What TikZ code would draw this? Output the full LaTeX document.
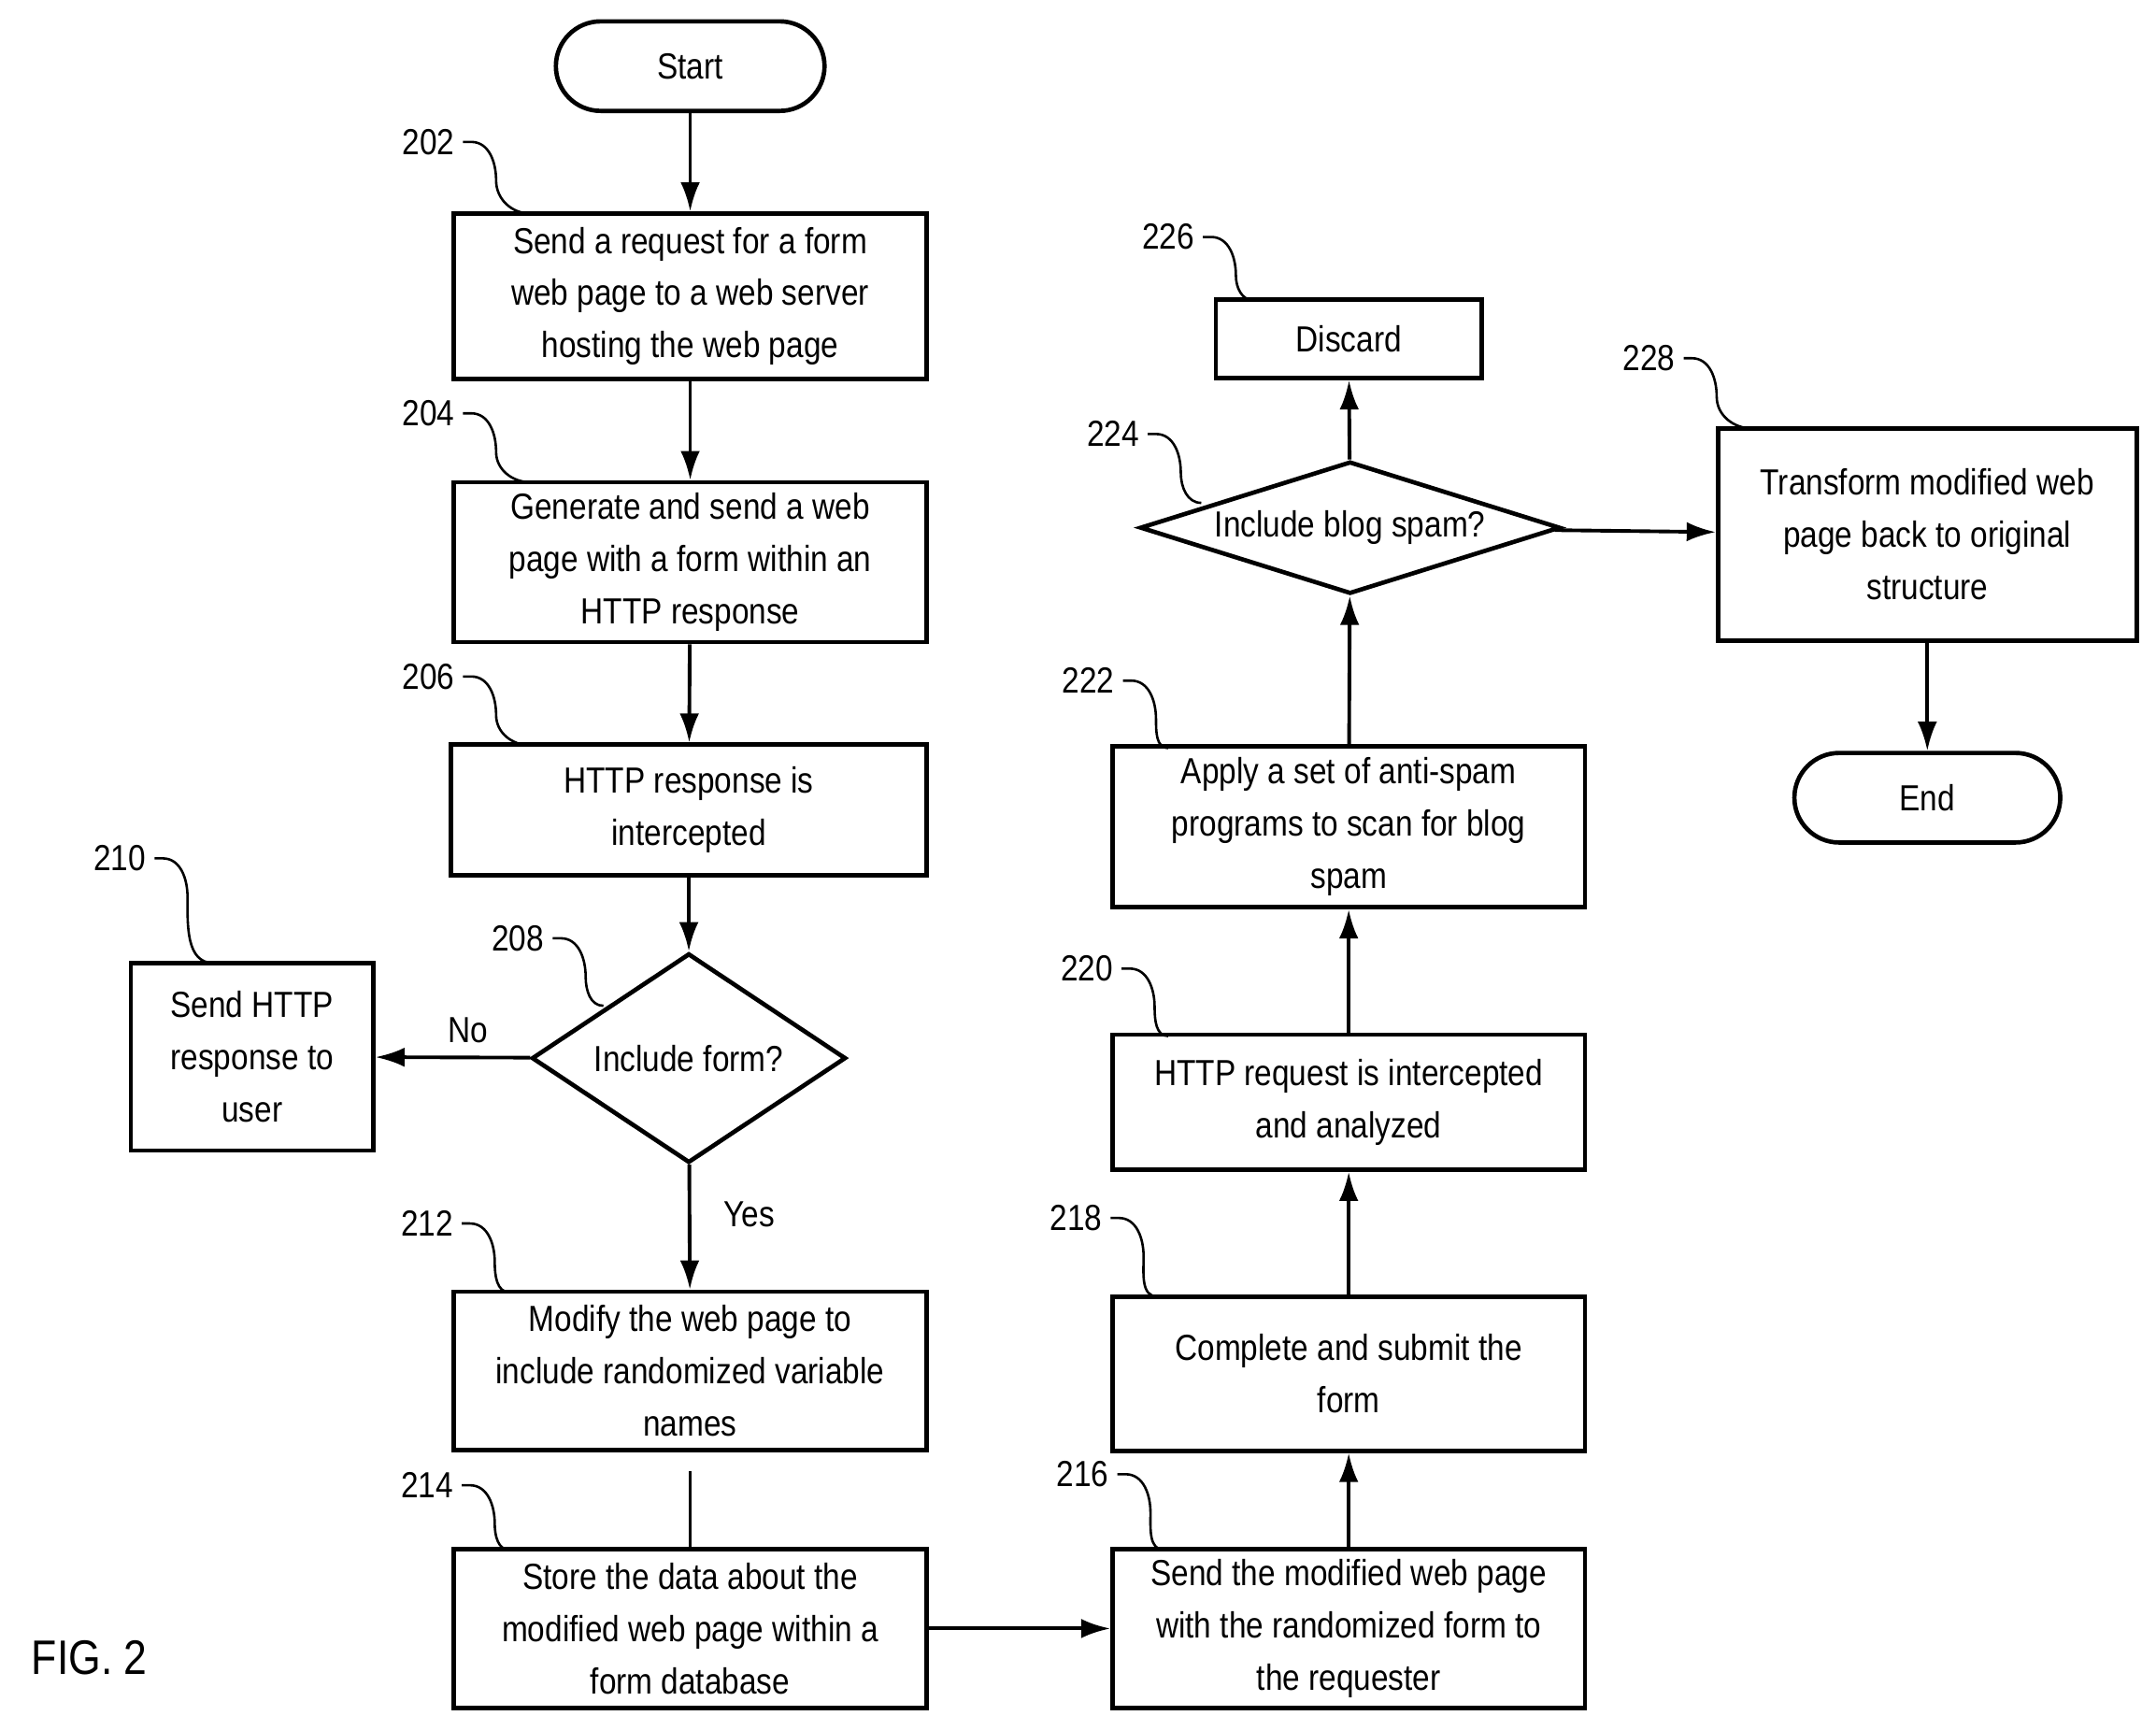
\documentclass[tikz,border=0pt]{standalone}
\usepackage{fontspec}
\setmainfont{Liberation Sans}[FakeStretch=0.86]
\usetikzlibrary{shapes.geometric,arrows.meta}
\begin{document}
\begin{tikzpicture}[x=0.02cm,y=-0.02cm,
  every node/.style={font=\fontsize{15}{21.6}\selectfont},
  box/.style={draw,line width=1.8pt,align=center,inner sep=0pt},
  term/.style={draw,line width=1.8pt,rounded corners=32.5*0.02cm,minimum width=195*0.02cm,minimum height=65*0.02cm},
  dia/.style={draw,line width=1.8pt,diamond,aspect=1.5,inner sep=0pt,align=center},
  arr/.style={line width=1.5pt,-{Latex[length=12pt,width=8pt]}},
  lead/.style={line width=1pt},
  lbl/.style={font=\fontsize{15}{18}\selectfont}]
\useasboundingbox (0,0) rectangle (1565,1255);
\newcommand\bx[6]{\node[box,minimum width=#4*0.02cm,minimum height=#5*0.02cm] (#1) at (#2,#3) {#6};}
\node[term] (start) at (501,48) {Start};
\bx{b202}{501}{215}{343}{120}{Send a request for a form\\web page to a web server\\hosting the web page}
\bx{b204}{501}{408}{343}{116}{Generate and send a web\\page with a form within an\\HTTP response}
\bx{b206}{500}{588}{345}{95}{HTTP response is\\intercepted}
\node[dia,minimum width=228*0.02cm,minimum height=152*0.02cm] (d208) at (500,768) {Include form?};
\bx{b210}{183}{767}{176}{136}{Send HTTP\\response to\\user}
\bx{b212}{501}{995}{343}{115}{Modify the web page to\\include randomized variable\\names}
\bx{b214}{501}{1182}{343}{115}{Store the data about the\\modified web page within a\\form database}
\bx{b216}{979}{1182}{343}{115}{Send the modified web page\\with the randomized form to\\the requester}
\bx{b218}{979}{997}{343}{112}{Complete and submit the\\form}
\bx{b220}{979}{800}{343}{98}{HTTP request is intercepted\\and analyzed}
\bx{b222}{979}{600}{343}{117}{Apply a set of anti-spam\\programs to scan for blog\\spam}
\node[dia,minimum width=305*0.02cm,minimum height=96*0.02cm,aspect=3.2] (d224) at (980,383) {Include blog spam?};
\bx{b226}{979}{246}{193}{57}{Discard}
\bx{b228}{1399}{388}{304}{154}{Transform modified web\\page back to original\\structure}
\node[term,minimum width=193*0.02cm] (end) at (1399,579) {End};
\node[font=\fontsize{20}{24}\selectfont] (fig) at (65,1203) {FIG. 2};

\draw[arr] (start) -- (b202);
\draw[arr] (b202) -- (b204);
\draw[arr] (b204) -- (b206);
\draw[arr] (b206) -- (d208);
\draw[arr] (d208) -- node[pos=0.4,above=2pt] (no) {No} (b210);
\draw[arr] (d208) -- node[pos=0.4,right=10pt] (yes) {Yes} (b212);
\coordinate (c212) at (501,1068);
\draw[line width=1.5pt] (c212) -- (b214);
\draw[arr] (b214) -- (b216);
\draw[arr] (b216) -- (b218);
\draw[arr] (b218) -- (b220);
\draw[arr] (b220) -- (b222);
\draw[arr] (b222) -- (d224);
\draw[arr] (d224) -- (b226);
\draw[arr] (d224) -- (b228);
\draw[arr] (b228) -- (end);

\foreach \n/\lx/\ly/\ex/\ey in {202/311/103/385/155,204/311/300/385/350,206/311/491/385/541,
  210/87/623/155/699,208/376/681/438/730,212/310/888/370/938,214/310/1078/370/1125,
  216/786/1070/845/1125,218/781/884/840/941,220/789/703/848/752,222/790/494/848/543,
  224/808/315/872/365,226/848/172/910/218,228/1197/260/1272/311}{
  \node[lbl] (l\n) at (\lx,\ly) {\n};
  \coordinate (e\n) at (\ex,\ey);
  \draw[lead] (l\n.east) -- ++(6,0) to[out=0,in=90] ++(18,28) to[out=-90,in=180] (e\n);
}
\end{tikzpicture}
\end{document}
